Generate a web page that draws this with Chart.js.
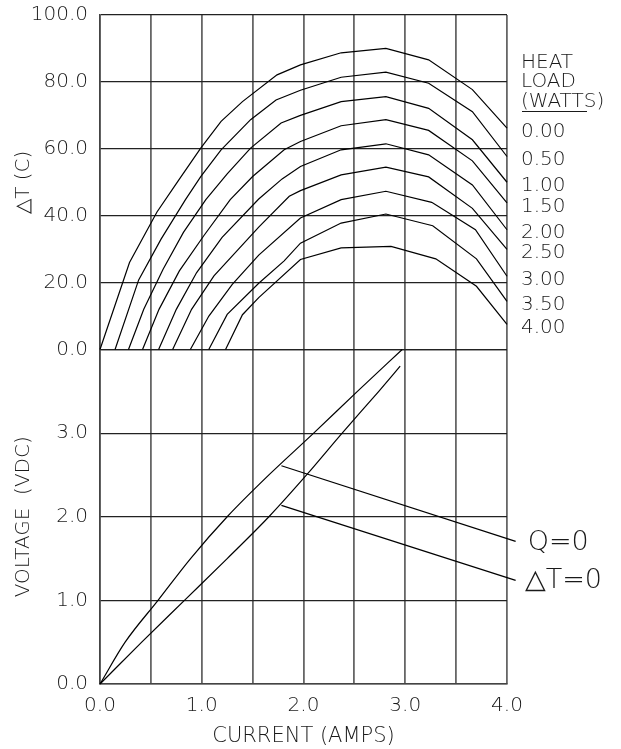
<!DOCTYPE html>
<html>
<head>
<meta charset="utf-8">
<script src="https://cdn.jsdelivr.net/npm/chart.js@4.4.0/dist/chart.umd.min.js"></script>
<style>
  html, body { margin: 0; padding: 0; background: #fff; }
  #wrap { width: 621px; height: 749px; }
</style>
</head>
<body>
<div id="wrap"><canvas id="chart" width="621" height="749"></canvas></div>
<script>
// Heat load curves: delta T (C) against current (A), one pair of arrays per curve
const heatLoads = ["0.00", "0.50", "1.00", "1.50", "2.00", "2.50", "3.00", "3.50", "4.00"];

const dtCurrent = [
    [0, 0.29, 0.56, 0.77, 0.99, 1.19, 1.40, 1.74, 1.97, 2.37, 2.81, 3.23, 3.66, 4.0],
    [0.148, 0.38, 0.60, 0.84, 0.99, 1.19, 1.48, 1.73, 1.97, 2.37, 2.81, 3.23, 3.66, 4.0],
    [0.28, 0.43, 0.62, 0.82, 1.04, 1.25, 1.48, 1.78, 1.97, 2.37, 2.81, 3.23, 3.66, 4.0],
    [0.418, 0.58, 0.78, 1.02, 1.28, 1.50, 1.81, 1.97, 2.37, 2.81, 3.23, 3.66, 4.0],
    [0.576, 0.75, 0.95, 1.20, 1.56, 1.79, 1.97, 2.37, 2.81, 3.23, 3.66, 4.0],
    [0.714, 0.90, 1.12, 1.56, 1.86, 1.97, 2.37, 2.81, 3.23, 3.66, 4.0],
    [0.888, 1.07, 1.30, 1.56, 1.97, 2.37, 2.81, 3.26, 3.69, 4.0],
    [1.069, 1.25, 1.56, 1.81, 1.97, 2.37, 2.81, 3.27, 3.70, 4.0],
    [1.234, 1.40, 1.56, 1.97, 2.37, 2.86, 3.30, 3.70, 4.0]
];

const dtValues = [
    [0, 26.0, 41.1, 50.5, 60.2, 68.2, 74.1, 82.1, 85.1, 88.7, 90.0, 86.6, 77.7, 66.2],
    [0, 20.8, 33.0, 44.8, 51.7, 59.7, 68.7, 74.6, 77.5, 81.4, 82.9, 79.6, 71.1, 57.7],
    [0, 12.0, 24.0, 35.0, 44.8, 52.5, 60.2, 67.7, 70.0, 74.1, 75.6, 72.1, 62.7, 50.0],
    [0, 12.0, 23.5, 34.0, 44.8, 51.7, 59.7, 62.2, 66.9, 68.7, 65.5, 56.4, 43.8],
    [0, 12.0, 23.0, 33.5, 45.0, 51.0, 54.7, 59.7, 61.5, 58.2, 49.2, 35.8],
    [0, 12.0, 22.0, 36.6, 45.8, 47.5, 52.2, 54.5, 51.6, 42.2, 29.9],
    [0, 10.0, 19.5, 28.2, 39.3, 44.8, 47.3, 44.0, 35.8, 21.9],
    [0, 10.5, 19.8, 26.5, 31.8, 37.8, 40.5, 37.0, 27.1, 14.4],
    [0, 10.4, 15.5, 26.9, 30.4, 30.8, 27.1, 18.9, 7.5]
];

// Voltage curves
const qZeroCurrent = [0, 0.247, 0.57, 0.89, 1.25, 1.66, 2.10, 2.53, 2.97];
const qZeroVolts   = [0, 0.5, 1.0, 1.5, 2.0, 2.5, 3.0, 3.5, 4.0];
const dtZeroCurrent = [0, 0.41, 0.83, 1.25, 1.66, 2.03, 2.38, 2.74, 2.95];
const dtZeroVolts   = [0, 0.5, 1.0, 1.5, 2.0, 2.5, 3.0, 3.5, 3.8];

// Leader lines for the voltage curve labels
const qZeroLeaderI = [1.783, 4.085];
const qZeroLeaderV = [2.61, 1.706];
const dtZeroLeaderI = [1.783, 4.085];
const dtZeroLeaderV = [2.136, 1.239];

const FONT = '"DejaVu Sans", "Liberation Sans", sans-serif';
const INK = "#1a1a1a";

function pairs(xs, ys) {
    return xs.map((x, i) => ({ x: x, y: ys[i] }));
}

function lineSet(label, xs, ys, axis, smooth) {
    return {
        label: label,
        data: pairs(xs, ys),
        yAxisID: axis,
        borderColor: "#000",
        borderWidth: 1.2,
        pointRadius: 0,
        fill: false,
        tension: 0,
        cubicInterpolationMode: smooth ? "monotone" : "default",
        clip: false
    };
}

const datasets = [];
heatLoads.forEach((q, i) => {
    datasets.push(lineSet(q, dtCurrent[i], dtValues[i], "yT", false));
});
datasets.push(lineSet("Q=0", qZeroCurrent, qZeroVolts, "yV", true));
datasets.push(lineSet("\u25B3T=0", dtZeroCurrent, dtZeroVolts, "yV", true));
datasets.push(lineSet("Q=0 leader", qZeroLeaderI, qZeroLeaderV, "yV", false));
datasets.push(lineSet("dT=0 leader", dtZeroLeaderI, dtZeroLeaderV, "yV", false));

// Text on the right side: heat load key and curve names
const sideLabels = {
    id: "sideLabels",
    afterDraw(chart) {
        const ctx = chart.ctx;
        const x = chart.scales.x;
        const yT = chart.scales.yT;
        const yV = chart.scales.yV;
        const lx = x.right + 14;

        ctx.save();
        ctx.fillStyle = INK;
        ctx.strokeStyle = INK;
        ctx.textAlign = "left";
        ctx.textBaseline = "middle";
        ctx.font = "300 20px " + FONT;
        ctx.fillText("HEAT", lx, yT.top + 48);
        ctx.fillText("LOAD", lx, yT.top + 67);
        ctx.fillText("(WATTS)", lx, yT.top + 87);
        ctx.lineWidth = 1.2;
        ctx.beginPath();
        ctx.moveTo(lx + 1, yT.top + 96.5);
        ctx.lineTo(lx + 66, yT.top + 96.5);
        ctx.stroke();

        // heat load values next to the end of each curve
        heatLoads.forEach((q, i) => {
            const vals = dtValues[i];
            const py = yT.getPixelForValue(vals[vals.length - 1]) + 3.5;
            ctx.fillText(q, lx, py);
        });

        // voltage curve names at the end of the leaders
        ctx.font = "300 27px " + FONT;
        const qx = x.getPixelForValue(qZeroLeaderI[1]);
        ctx.fillText("Q=0", qx + 12, yV.getPixelForValue(qZeroLeaderV[1]) + 2);
        ctx.fillText("\u25B3T=0", qx + 9, yV.getPixelForValue(dtZeroLeaderV[1]) + 1);
        ctx.restore();
    }
};

// keep the plot box at fixed pixel edges
function fixLeft(s) {
    s.width = 100;
    s.paddingTop = 0;
    s.paddingBottom = 0;
}

new Chart(document.getElementById("chart"), {
    type: "line",
    data: { datasets: datasets },
    plugins: [sideLabels],
    options: {
        responsive: false,
        animation: false,
        devicePixelRatio: 1,
        layout: { autoPadding: false, padding: { top: 15, right: 114, bottom: 0, left: 0 } },
        plugins: {
            legend: { display: false },
            tooltip: { enabled: false }
        },
        scales: {
            x: {
                type: "linear",
                min: 0,
                max: 4,
                afterFit: s => { s.height = 65; },
                ticks: {
                    stepSize: 0.5,
                    padding: 10,
                    color: INK,
                    font: { family: FONT, size: 20, weight: "300" },
                    maxRotation: 0,
                    callback: v => Number.isInteger(v) ? v.toFixed(1) : ""
                },
                grid: { color: "#666", lineWidth: 1.8, drawTicks: false },
                border: { color: "#444", width: 1.5 },
                title: {
                    display: true,
                    text: "CURRENT (AMPS)",
                    color: INK,
                    font: { family: FONT, size: 21, weight: "300" },
                    padding: { top: 0, bottom: 0 }
                }
            },
            yV: {
                type: "linear",
                position: "left",
                stack: "panels",
                stackWeight: 1,
                min: 0,
                max: 4,
                afterFit: fixLeft,
                ticks: {
                    stepSize: 0.5,
                    padding: 12,
                    color: INK,
                    font: { family: FONT, size: 20, weight: "300" },
                    callback: v => (Number.isInteger(v) && v < 4) ? v.toFixed(1) : ""
                },
                grid: { color: "#222", lineWidth: 1.2, drawTicks: false },
                border: { color: "#444", width: 1.5 },
                title: {
                    display: true,
                    text: "VOLTAGE  (VDC)",
                    color: INK,
                    font: { family: FONT, size: 20, weight: "300" },
                    padding: { top: 12, bottom: 0 }
                }
            },
            yT: {
                type: "linear",
                position: "left",
                stack: "panels",
                stackWeight: 1,
                min: 0,
                max: 100,
                afterFit: fixLeft,
                ticks: {
                    stepSize: 10,
                    padding: 12,
                    color: INK,
                    font: { family: FONT, size: 20, weight: "300" },
                    callback: v => (v % 20 === 0) ? v.toFixed(1) : ""
                },
                grid: { color: "#222", lineWidth: 1.2, drawTicks: false },
                border: { color: "#444", width: 1.5 },
                title: {
                    display: true,
                    text: "\u25B3T (C)",
                    color: INK,
                    font: { family: FONT, size: 20, weight: "300" },
                    padding: { top: 12, bottom: 0 }
                }
            }
        }
    }
});
</script>
</body>
</html>
